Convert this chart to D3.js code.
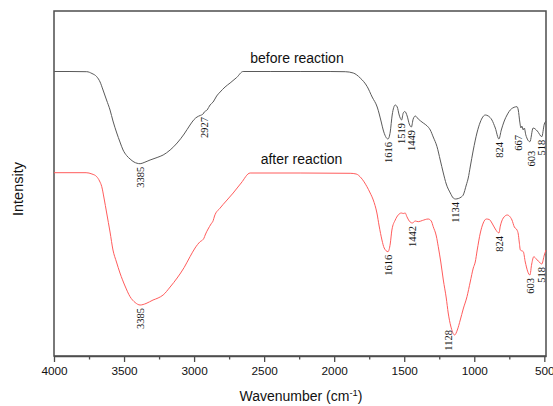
<!DOCTYPE html>
<html>
<head>
<meta charset="utf-8">
<script src="https://cdn.jsdelivr.net/npm/d3@7"></script>
<style>
  html, body { margin: 0; padding: 0; background: #fff; }
  svg { display: block; }
</style>
</head>
<body>
<svg id="chart" width="553" height="406"></svg>
<script>
// ---------- DATA ----------
const xTicks = [4000, 3500, 3000, 2500, 2000, 1500, 1000, 500];
const xMinorTicks = [3750, 3250, 2750, 2250, 1750, 1250, 750];
const seriesNames = ["before reaction", "after reaction"];

// wavenumber (cm-1) and intensity (arbitrary units)
const beforeWavenumber = [4000,3886,3766,3729,3695,3671,3650,3625,3600,3579,3552,3529,3507,3482,3457,3429,3385,3357,3314,3264,3221,3171,3121,3071,3029,3000,2979,2957,2936,2927,2907,2886,2864,2839,2814,2779,2743,2696,2650,2457,2243,2029,1921,1864,1814,1764,1729,1693,1664,1650,1616,1600,1586,1564,1550,1536,1519,1507,1496,1479,1464,1449,1436,1421,1400,1364,1336,1314,1293,1266,1243,1221,1200,1171,1150,1134,1114,1093,1079,1057,1043,1029,1007,981,957,921,900,874,850,824,807,786,766,736,695,686,675,667,661,650,643,632,603,580,550,518,500,488];
const beforeIntensity =  [284.5,284.5,284.3,282.5,279.3,274,266,256,246,235,223,214,206,200.5,197,194,192.3,193.5,196,198.5,201,206,213,222,231,236.5,239,240.5,242,244,246,251,254,260,264,269,273,278.5,284.5,284.5,284.5,284.5,284.3,283,278,269.3,259,249,234,226,217,224,241,251,249,241,236,243,244.5,240,232,229,237,240,237,233,230,226,219,209.3,196,183,172,163,158,157,157.5,159,161,171,178,189,206,223,234,241,240,236,228,217,226,235,241,247,249.3,246,234,228,230,226,228,221,214.3,228,225,219.3,232,235];

const afterWavenumber = [4000,3771,3729,3695,3675,3659,3643,3624,3600,3579,3554,3529,3493,3457,3421,3385,3343,3293,3257,3221,3171,3121,3071,3029,2993,2957,2936,2929,2921,2900,2879,2864,2854,2814,2771,2721,2664,2600,2243,1886,1843,1807,1766,1743,1721,1695,1679,1659,1643,1616,1600,1588,1564,1543,1521,1507,1493,1481,1464,1442,1421,1400,1371,1329,1307,1293,1271,1257,1239,1221,1200,1186,1168,1140,1121,1100,1079,1052,1029,1007,993,979,957,936,914,893,874,850,824,814,793,764,750,731,714,695,686,679,671,650,636,603,590,575,557,529,518,500,488];
const afterIntensity =   [183.3,183.3,182,179.3,175,169.3,158,143,124,106,94,83,70,59.3,53.5,51,52.5,56,58,61,69,78,88.5,99.3,108,114.3,116.5,118,121,127,132,135.3,140,148,155,163,173,183,183,182.7,182,178,169.3,163,156,143,130,116,108,104.3,112,126,136,141,143,142.5,143,139.3,135,133,135,134.3,135.5,137,135,129.3,120,109.3,94,76,58,43,30,21,26,36,47,59.3,74,88,94,106,123,133,137,136.5,133,127,123,130,138,141,140,136,129,126,122,114,106,104.3,94,81,92,99.3,97,93,92,101,106];

const beforePeaks = [3385, 2927, 1616, 1519, 1449, 1134, 824, 667, 603, 518];
const afterPeaks  = [3385, 1616, 1442, 1128, 824, 603, 518];

// ---------- LAYOUT ----------
const svg = d3.select("#chart");
const margin = {left: 54, right: 7, top: 11, bottom: 50};
const W = 553, H = 406;
const x0 = margin.left, x1 = W - margin.right, y0 = margin.top, y1 = H - margin.bottom;

const x = d3.scaleLinear().domain([4000, 488]).range([x0, x1]);
const y = d3.scaleLinear().domain([0, 345]).range([y1, y0]);

const axisColor = "#4d4d4d";
const colors = ["#5a5a5a", "#ff5c5c"];

// frame
svg.append("rect").attr("x", x0).attr("y", y0).attr("width", x1 - x0).attr("height", y1 - y0)
  .attr("fill", "none").attr("stroke", axisColor).attr("stroke-width", 1.5);

// bottom axis major
const gx = svg.append("g").attr("transform", `translate(0,${y1})`)
  .call(d3.axisBottom(x).tickValues(xTicks).tickSizeInner(6).tickSizeOuter(0).tickPadding(5).tickFormat(d3.format("d")));
gx.select(".domain").attr("stroke", axisColor).attr("stroke-width", 1.5);
gx.selectAll(".tick line").attr("stroke", axisColor).attr("stroke-width", 1.3);
gx.selectAll(".tick text").attr("font-family", "Liberation Sans, Arial, sans-serif").attr("font-size", "11.8px").attr("fill", "#111");

// minor ticks
const gm = svg.append("g").attr("transform", `translate(0,${y1})`)
  .call(d3.axisBottom(x).tickValues(xMinorTicks).tickSizeInner(3.5).tickSizeOuter(0).tickFormat(""));
gm.select(".domain").remove();
gm.selectAll(".tick line").attr("stroke", axisColor).attr("stroke-width", 1.3);

// axis titles
const xt = svg.append("text").attr("x", (x0 + x1) / 2 + 1).attr("y", 401)
  .attr("text-anchor", "middle").attr("font-family", "Liberation Sans, Arial, sans-serif")
  .attr("font-size", "14px").attr("fill", "#111");
xt.append("tspan").text("Wavenumber (cm");
xt.append("tspan").attr("dy", "-5").attr("font-size", "9.5px").text("-1");
xt.append("tspan").attr("dy", "5").text(")");

svg.append("text").attr("transform", `translate(23,189) rotate(-90)`)
  .attr("text-anchor", "middle").attr("font-family", "Liberation Sans, Arial, sans-serif")
  .attr("font-size", "14.5px").attr("fill", "#111").text("Intensity");

// curves
const line = d3.line().x(d => x(d[0])).y(d => y(d[1])).curve(d3.curveMonotoneX);
const series = [
  d3.zip(beforeWavenumber, beforeIntensity),
  d3.zip(afterWavenumber, afterIntensity)
];
series.forEach((s, i) => {
  svg.append("path").datum(s).attr("d", line)
    .attr("fill", "none").attr("stroke", colors[i]).attr("stroke-width", 1);
});

// series names
[0, 1].forEach(i => {
  const flat = series[i][0][1];
  svg.append("text").attr("x", i === 0 ? 297 : 301.5).attr("y", y(flat) - 9)
    .attr("text-anchor", "middle").attr("font-family", "Liberation Sans, Arial, sans-serif")
    .attr("font-size", "14px").attr("fill", "#111").text(seriesNames[i]);
});

// peak labels
function valueAt(s, w) {
  const near = s.filter(d => Math.abs(d[0] - w) <= 12);
  if (near.length) return d3.min(near, d => d[1]);
  for (let k = 0; k < s.length - 1; k++) {
    const a = s[k], b = s[k + 1];
    if ((a[0] - w) * (b[0] - w) <= 0) {
      const t = (w - a[0]) / (b[0] - a[0]);
      return a[1] + t * (b[1] - a[1]);
    }
  }
  return s[s.length - 1][1];
}
const labelShift = { "1-1128": [-8, -8], "0-667": [-3, 4], "0-603": [1, 6] };
[beforePeaks, afterPeaks].forEach((peaks, i) => {
  peaks.forEach(w => {
    const sh = labelShift[i + "-" + w] || [0, 0];
    const px = x(w) + sh[0];
    const py = y(valueAt(series[i], w)) + 3 + sh[1];
    svg.append("text").attr("transform", `translate(${px},${py}) rotate(-90)`)
      .attr("text-anchor", "end").attr("dy", "0.35em")
      .attr("font-family", "Liberation Serif, Times New Roman, serif")
      .attr("font-size", "10.5px").attr("fill", "#111").text(w);
  });
});
</script>
</body>
</html>
